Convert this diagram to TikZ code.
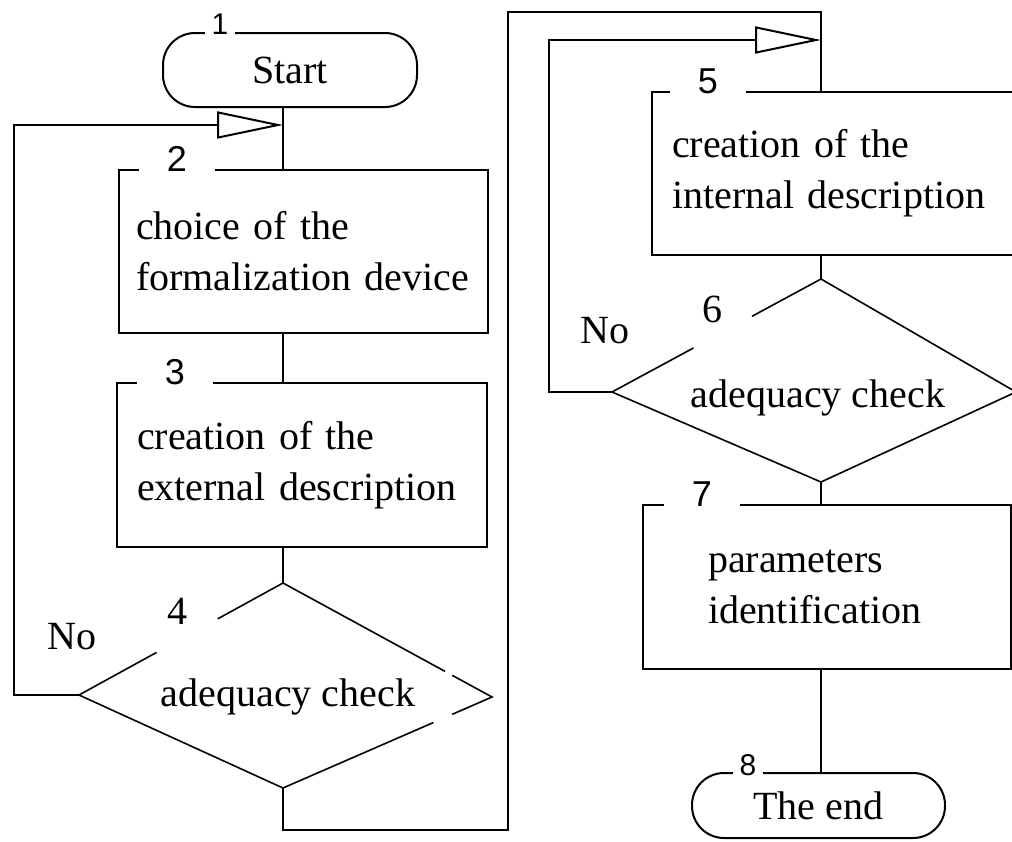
\documentclass[tikz,border=0pt]{standalone}
\usepackage{fontspec}
\setmainfont{Liberation Serif}
\newfontfamily\numfont{Liberation Sans}
\usetikzlibrary{arrows.meta,calc}

\begin{document}
\begin{tikzpicture}[x=0.5pt, y=-0.5pt, line width=1pt,
  font=\fontsize{20}{25.5}\selectfont,
  term/.style={draw, rounded corners=16pt},
  block/.style={draw, align=left},
  num/.style={fill=white, font=\numfont\fontsize{18}{20}\selectfont,
              inner ysep=0pt, inner xsep=13.75pt, text depth=4pt, anchor=base},
  smallnum/.style={num, font=\numfont\fontsize{15}{17}\selectfont, inner xsep=3.3pt},
  back/.style={-{Triangle[open, length=33pt, width=13.5pt]}},
  slant/.style={line width=0.8pt}]
  \useasboundingbox (0,0) rectangle (1012,841);
  \clip (0,0) rectangle (1012,841);

  % vertical spines and loop junctions
  \coordinate (lsp) at (283,0);
  \coordinate (rsp) at (821,0);
  \coordinate (j1) at (283,125);
  \coordinate (j2) at (821,40);

  % left column
  \node[term, minimum width=127pt, minimum height=37pt] (start) at (290,70) {Start};
  \node[block, minimum width=184.5pt, minimum height=81.5pt, inner xsep=8.5pt,
        text width=167.5pt] (device) at (303.5,251.5)
        {choice of the\\formalization device};
  \node[block, minimum width=185pt, minimum height=82pt, inner xsep=10pt,
        text width=165pt] (external) at (302,465)
        {creation of the\\external description};

  \coordinate (c1t) at (283,583);
  \coordinate (c1l) at (79,695);
  \coordinate (c1r) at (492,697);
  \coordinate (c1b) at (283,788);
  \draw[slant] (c1t) -- ($(c1t)!.32!(c1l)$) ($(c1t)!.62!(c1l)$) -- (c1l) -- (c1b)
    -- ($(c1b)!.72!(c1r)$) ($(c1b)!.81!(c1r)$) -- (c1r)
    -- ($(c1r)!.19!(c1t)$) ($(c1r)!.225!(c1t)$) -- (c1t);
  \node (check1) at (288,697) {adequacy check};
  \node (four) at (177,611) {4};
  \node (no1) at (72,637) {No};

  % right column
  \node[block, minimum width=184pt, minimum height=81.5pt, inner xsep=10pt,
        text width=164pt] (internal) at (836,173.5)
        {creation of the\\internal description};

  \coordinate (c2t) at (821,279);
  \coordinate (c2l) at (612,392);
  \coordinate (c2r) at (1016,392);
  \coordinate (c2b) at (821,482);
  \draw[slant] (c2t) -- ($(c2t)!.33!(c2l)$) ($(c2t)!.61!(c2l)$) -- (c2l)
    -- (c2b) -- (c2r) -- (c2t);
  \node (check2) at (818,398) {adequacy check};
  \node (six) at (712,309) {6};
  \node (no2) at (605,331) {No};

  \node[block, minimum width=184pt, minimum height=82pt, inner xsep=32.5pt,
        text width=119pt] (params) at (827,587)
        {parameters\\identification};
  \node[term, minimum width=126.5pt, minimum height=32.5pt] (finish) at (818.5,805.5) {The end};

  % step numbers
  \node[smallnum] (n1) at (220,34) {1};
  \node[num] (n2) at (177,171) {2};
  \node[num] (n3) at (175,384) {3};
  \node[num] (n5) at (708,93) {5};
  \node[num] (n7) at (702,506) {7};
  \node[smallnum] (n8) at (748,775) {8};

  % connectors
  \draw (start.south -| lsp) -- (device.north -| lsp);
  \draw (device.south -| lsp) -- (external.north -| lsp);
  \draw (external.south -| lsp) -- (c1t);
  \draw[back] (c1l) -- ++(-65,0) |- (j1);
  \draw (c1b) |- (508,830) -- (508,12) -| (internal.north -| rsp);
  \draw[back] (c2l) -- ++(-63,0) |- (j2);
  \draw (internal.south -| rsp) -- (c2t);
  \draw (c2b) -- (params.north -| rsp);
  \draw (params.south -| rsp) -- (finish.north -| rsp);
\end{tikzpicture}
\end{document}
